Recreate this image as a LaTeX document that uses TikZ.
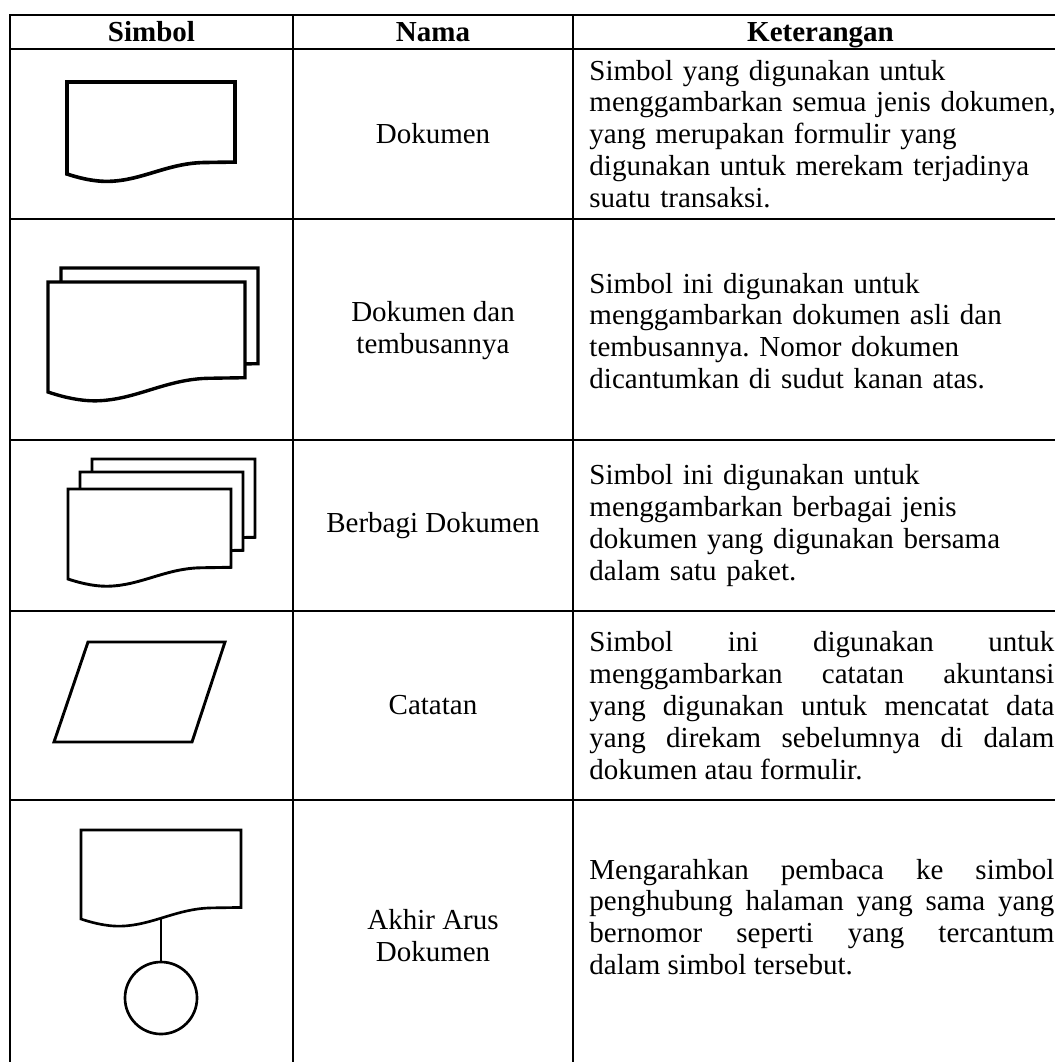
\documentclass[tikz,border=0pt]{standalone}
\usepackage{fontspec}
\setmainfont{Liberation Serif}
\usepackage{tikz}
\frenchspacing

\begin{document}
\begin{tikzpicture}[x=0.4138pt, y=-0.4138pt, line width=1.2pt,
    garis/.style={line width=1pt, line cap=rect},
    simbol/.style={fill=white},
    teks/.style={inner sep=0pt, font=\fontsize{12}{13.2}\selectfont},
    judul/.style={teks, anchor=base, font=\fontsize{12}{13.2}\selectfont\bfseries},
    ket/.style={teks, anchor=west, text width=230pt, align=left},
    ketrata/.style={teks, anchor=west, text width=192.4pt, align=justify},
    dok/.pic={\draw[simbol] (0,0) -- (1,0) -- (1,0.87) -- (0.82,0.875)
      .. controls (0.6,0.88) and (0.45,1.07) .. (0.25,1.08)
      .. controls (0.15,1.085) and (0.05,1.03) .. (0,1) -- cycle;}]
  \useasboundingbox (0,0) rectangle (1055,1062);
  % garis tabel
  \foreach \y in {15,49,219,440,611,800} \draw[garis] (10,\y) -- (1055,\y);
  \foreach \x in {10,293,573} \draw[garis] (\x,15) -- (\x,1062);
  % kepala tabel
  \node[judul] (hsimbol) at (151.5,41) {Simbol};
  \node[judul] (hnama) at (433,41) {Nama};
  \node[judul] (hket) at (820.5,41) {Keterangan};
  % dokumen
  \pic[xscale=168, yscale=92, line width=1.5pt] at (67,82) {dok};
  \node[teks, align=center] (nama1) at (433,134) {Dokumen};
  \node[ket] (ket1) at (588,134) {Simbol yang digunakan untuk\\
    menggambarkan semua jenis dokumen,\\ yang merupakan formulir yang\\
    digunakan untuk merekam terjadinya\\ suatu transaksi.};
  % dokumen dan tembusannya
  \pic[xscale=197, yscale=110, line width=1.4pt] at (61,268) {dok};
  \pic[xscale=197, yscale=110, line width=1.4pt] at (48,282) {dok};
  \node[teks, align=center] (nama2) at (433,331) {Dokumen dan\\ tembusannya};
  \node[ket] (ket2) at (588,331) {Simbol ini digunakan untuk\\
    menggambarkan dokumen asli dan\\ tembusannya. Nomor dokumen\\
    dicantumkan di sudut kanan atas.};
  % berbagi dokumen
  \foreach \dx/\dy in {92/459,80/472,68/489}
    \pic[xscale=163, yscale=90] at (\dx,\dy) {dok};
  \node[teks, align=center] (nama3) at (433,525.5) {Berbagi Dokumen};
  \node[ket] (ket3) at (588,525.5) {Simbol ini digunakan untuk\\
    menggambarkan berbagai jenis\\ dokumen yang digunakan bersama\\
    dalam satu paket.};
  % catatan
  \draw[simbol] (88,642) -- (225,642) -- (192,742) -- (54,742) -- cycle;
  \node[teks, align=center] (nama4) at (433,705.5) {Catatan};
  \node[ketrata] (ket4) at (588,705.5) {Simbol ini digunakan untuk\linebreak
    menggambarkan catatan akuntansi\linebreak
    yang digunakan untuk mencatat data\linebreak
    yang direkam sebelumnya di dalam\linebreak dokumen atau formulir.};
  % akhir arus dokumen
  \pic[xscale=160, yscale=89, line width=1.1pt] at (81,830) {dok};
  \coordinate (pangkal) at (161,918);
  \node[simbol, draw, circle, line width=1.1pt, inner sep=0pt, minimum size=29.8pt] (ujung) at (161,998) {};
  \draw[line width=1.1pt] (pangkal) -- (ujung);
  \node[teks, align=center] (nama5) at (433,935.5) {Akhir Arus\\ Dokumen};
  \node[ketrata] (ket5) at (588,917) {Mengarahkan pembaca ke simbol\linebreak
    penghubung halaman yang sama yang\linebreak
    bernomor seperti yang tercantum\linebreak dalam simbol tersebut.};
\end{tikzpicture}
\end{document}
